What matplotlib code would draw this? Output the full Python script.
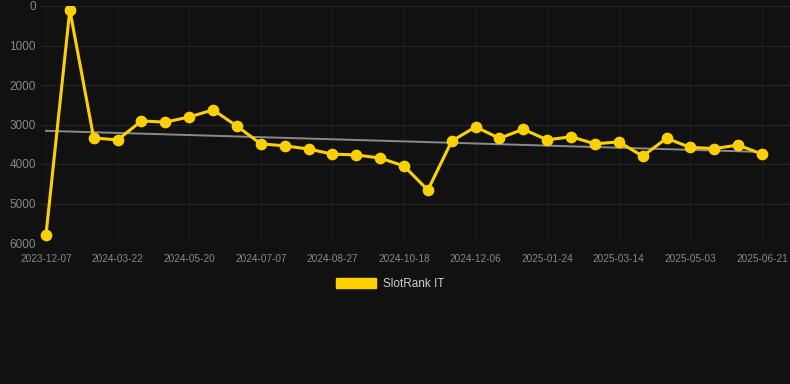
import matplotlib.pyplot as plt
from matplotlib.patches import Patch

# -----------------------------
# DATI
# -----------------------------
tick_labels = ['2023-12-07', '2024-03-22', '2024-05-20', '2024-07-07', '2024-08-27',
               '2024-10-18', '2024-12-06', '2025-01-24', '2025-03-14', '2025-05-03',
               '2025-06-21']
rank = [5800, 100, 3340, 3390, 2910, 2940, 2810, 2630, 3040, 3490, 3540,
        3620, 3750, 3770, 3850, 4050, 4660, 3420, 3060, 3350, 3120, 3390,
        3310, 3490, 3440, 3800, 3350, 3580, 3610, 3520, 3750]
trend_start = 3160
trend_end = 3695

BG = '#111111'
GOLD = '#FFD000'

plt.rcParams['font.family'] = ['Liberation Sans', 'DejaVu Sans']

fig = plt.figure(figsize=(7.9, 3.84), dpi=100, facecolor=BG)
ax = fig.add_axes([40 / 790, 141 / 384, 750 / 790, 237 / 384], facecolor=BG)

x = list(range(len(rank)))
ax.plot([x[0], x[-1]], [trend_start, trend_end], color='#8a8a8a', lw=1.4, zorder=2)
ax.plot(x, rank, color=GOLD, lw=2.2, marker='o', ms=7.4, zorder=3)

ax.set_ylim(6000, 0)
ax.set_xlim(-0.25, len(rank) - 1 + 28 / 23.87)
ax.set_yticks(range(0, 6001, 1000))
ax.set_xticks(x[::3])
ax.set_xticklabels(tick_labels)

ax.grid(True, axis='y', color='#232323', lw=0.9)
ax.grid(True, axis='x', color='#1b1b1b', lw=0.9)
ax.set_axisbelow(True)
for s in ax.spines.values():
    s.set_visible(False)
ax.tick_params(axis='y', colors='#888888', labelsize=8.5, length=0, pad=3)
ax.tick_params(axis='x', colors='#888888', labelsize=7.2, length=0, pad=8)
for lbl in ax.get_xticklabels() + ax.get_yticklabels():
    lbl.set_color('#888888')

# legenda
handle = Patch(facecolor=GOLD, edgecolor=GOLD)
leg = fig.legend([handle], ['SlotRank IT'], loc='center', bbox_to_anchor=(390 / 790, 1 - 284 / 384),
                 frameon=False, fontsize=8.5, handlelength=3.4, handleheight=0.9, handletextpad=0.6)
for t in leg.get_texts():
    t.set_color('#cccccc')

fig.savefig('out.png', dpi=100, facecolor=BG)
